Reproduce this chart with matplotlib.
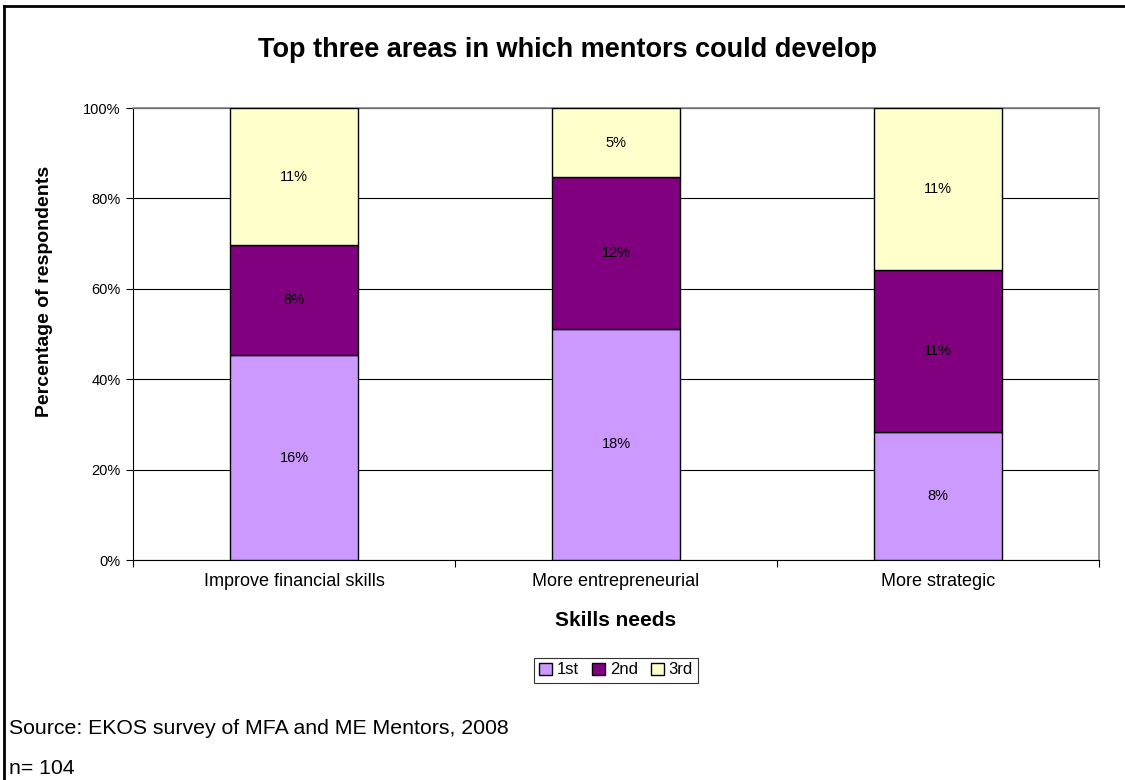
import matplotlib.pyplot as plt
import matplotlib.ticker as ticker

plt.rcParams['font.family'] = ['Liberation Sans', 'DejaVu Sans']

categories = ['Improve financial skills', 'More entrepreneurial', 'More strategic']
series = ['1st', '2nd', '3rd']
# share of each bar (percent of 100% stack)
first = [45.3, 51.2, 28.4]
second = [24.3, 33.5, 35.7]
third = [30.4, 15.3, 35.9]
# labels printed inside the segments
first_lbl = ['16%', '18%', '8%']
second_lbl = ['8%', '12%', '11%']
third_lbl = ['11%', '5%', '11%']

colors = ['#CC99FF', '#800080', '#FFFFCC']

W, H = 1125, 780
fig = plt.figure(figsize=(W/100, H/100), dpi=100)
ax = fig.add_axes([133/W, 1-560/H, (1099-133)/W, (560-108)/H])

x = range(len(categories))
bottom = [0, 0, 0]
for vals, lbls, col, name in zip([first, second, third],
                                 [first_lbl, second_lbl, third_lbl],
                                 colors, series):
    bars = ax.bar(x, vals, 0.4, bottom=bottom, color=col, edgecolor='black',
                  linewidth=1, label=name, zorder=3)
    for b, l in zip(bars, lbls):
        ax.text(b.get_x() + b.get_width()/2, b.get_y() + b.get_height()/2, l,
                ha='center', va='center', fontsize=10.5, color='black', zorder=4)
    bottom = [a + v for a, v in zip(bottom, vals)]

ax.set_xlim(-0.5, 2.5)
ax.set_ylim(0, 100)
ax.set_yticks([0, 20, 40, 60, 80, 100])
ax.yaxis.set_major_formatter(ticker.FuncFormatter(lambda v, p: '%d%%' % v))
ax.yaxis.grid(True, color='black', linewidth=0.8, zorder=0)
ax.set_xticks(list(x))
ax.set_xticklabels(categories, fontsize=13)
ax.tick_params(axis='x', length=0, pad=9)
ax.set_xticks([-0.5, 0.5, 1.5, 2.5], minor=True)
ax.tick_params(axis='x', which='minor', length=5, width=0.8, direction='out')
ax.tick_params(axis='y', length=5, width=0.8, direction='out', labelsize=10.5, pad=4)

for side in ['top', 'right']:
    ax.spines[side].set_color('#808080')
    ax.spines[side].set_linewidth(1.2)
for side in ['left', 'bottom']:
    ax.spines[side].set_color('black')
    ax.spines[side].set_linewidth(0.8)

ax.set_ylabel('Percentage of respondents', fontsize=14, fontweight='bold', va='center')
ax.yaxis.set_label_coords(-(133 - 45)/966, 0.595)
ax.set_xlabel('Skills needs', fontsize=15, fontweight='bold', va='center')
ax.xaxis.set_label_coords(0.5, -(621 - 560)/452)

fig.text(567/W, 1-50/H, 'Top three areas in which mentors could develop',
         ha='center', va='center', fontsize=19.5, fontweight='bold')

leg = fig.legend(loc='center', bbox_to_anchor=(616/W, 1-670/H), ncol=3,
                 fontsize=12, frameon=True, fancybox=False, edgecolor='black',
                 handlelength=0.75, handleheight=0.75, handletextpad=0.3,
                 columnspacing=0.8, borderpad=0.3)
leg.get_frame().set_linewidth(0.8)

fig.text(9/W, 1-728/H, 'Source: EKOS survey of MFA and ME Mentors, 2008',
         ha='left', va='center', fontsize=15.3)
fig.text(9/W, 1-769/H, 'n= 104', ha='left', va='center', fontsize=15.3)

# outer frame (top and left visible)
fig.add_artist(plt.Line2D([4/W, 4/W], [0, 1-6/H], color='black',
                          linewidth=2, transform=fig.transFigure))
fig.add_artist(plt.Line2D([4/W, 1], [1-6/H, 1-6/H], color='black',
                          linewidth=2, transform=fig.transFigure))

plt.savefig('out.png', dpi=100)
